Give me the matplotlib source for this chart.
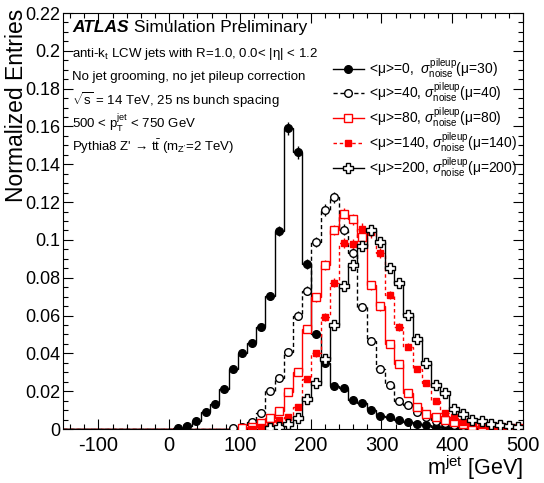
import matplotlib
matplotlib.use("Agg")
import matplotlib.pyplot as plt
from matplotlib.lines import Line2D
from matplotlib.ticker import MultipleLocator, FuncFormatter
import numpy as np

plt.rcParams.update({
    "font.family": "Liberation Sans",
    "mathtext.fontset": "custom",
    "mathtext.rm": "Liberation Sans",
    "mathtext.it": "Liberation Sans:italic",
    "mathtext.bf": "Liberation Sans:bold",
    "axes.unicode_minus": False,
})

# 50 bins of 13 GeV from -150 to 500 GeV
bin_edges = np.linspace(-150, 500, 51)

mu0 = [0, 0, 0, 0, 0, 0, 0, 0, 0, 0,
       0, 0, 0.0005, 0.0015, 0.0044, 0.0088, 0.0132, 0.0212, 0.0316, 0.0400,
       0.0456, 0.0540, 0.0703, 0.1047, 0.1590, 0.1463, 0.0871, 0.0502, 0.0350, 0.0227,
       0.0215, 0.0153, 0.0137, 0.0103, 0.0069, 0.0062, 0.0046, 0.0036, 0.0027, 0.0023,
       0.0008, 0.0008, 0.0007, 0.0006, 0.0006, 0.0008, 0.0007, 0.0006, 0.0005, 0.0005]
mu40 = [0, 0, 0, 0, 0, 0, 0, 0, 0, 0,
        0, 0, 0, 0, 0, 0, 0, 0, 0.0004, 0.0012,
        0.0036, 0.0083, 0.0203, 0.0268, 0.0409, 0.0600, 0.0731, 0.0990, 0.1158, 0.1225,
        0.1054, 0.0930, 0.0645, 0.0468, 0.0316, 0.0233, 0.0149, 0.0125, 0.0090, 0.0061,
        0.0042, 0.0030, 0.0022, 0.0016, 0.0012, 0.0009, 0.0007, 0.0005, 0.0004, 0.0003]
mu80 = [0, 0, 0, 0, 0, 0, 0, 0, 0, 0,
        0, 0, 0, 0, 0, 0, 0, 0, 0, 0.0004,
        0.0010, 0.0030, 0.0057, 0.0097, 0.0197, 0.0300, 0.0527, 0.0696, 0.0867, 0.1052,
        0.1138, 0.1110, 0.1018, 0.0761, 0.0648, 0.0448, 0.0342, 0.0189, 0.0118, 0.0080,
        0.0065, 0.0050, 0.0035, 0.0025, 0.0018, 0.0012, 0.0010, 0.0008, 0.0006, 0.0005]
mu140 = [0, 0, 0, 0, 0, 0, 0, 0, 0, 0,
         0, 0, 0, 0, 0, 0, 0, 0, 0, 0,
         0.0002, 0.0010, 0.0020, 0.0045, 0.0065, 0.0115, 0.0263, 0.0400, 0.0594, 0.0774,
         0.0985, 0.0978, 0.1060, 0.1040, 0.0929, 0.0709, 0.0541, 0.0435, 0.0316, 0.0245,
         0.0148, 0.0083, 0.0062, 0.0039, 0.0030, 0.0020, 0.0015, 0.0010, 0.0008, 0.0006]
mu200 = [0, 0, 0, 0, 0, 0, 0, 0, 0, 0,
         0, 0, 0, 0, 0, 0, 0, 0, 0, 0,
         0, 0, 0.0003, 0.0012, 0.0025, 0.0060, 0.0160, 0.0242, 0.0369, 0.0550,
         0.0757, 0.0867, 0.0970, 0.1050, 0.0990, 0.0850, 0.0774, 0.0603, 0.0474, 0.0351,
         0.0233, 0.0192, 0.0104, 0.0079, 0.0048, 0.0044, 0.0024, 0.0020, 0.0015, 0.0010]

labels = [
    r"<μ>=0,  $σ^{\rm pileup}_{\rm noise}$(μ=30)",
    r"<μ>=40, $σ^{\rm pileup}_{\rm noise}$(μ=40)",
    r"<μ>=80, $σ^{\rm pileup}_{\rm noise}$(μ=80)",
    r"<μ>=140, $σ^{\rm pileup}_{\rm noise}$(μ=140)",
    r"<μ>=200, $σ^{\rm pileup}_{\rm noise}$(μ=200)",
]

# statistical-like error bar size: err = ERR_SCALE * sqrt(value)
ERR_SCALE = 0.0088

styles = [
    dict(color="black", ls="-", marker="o", mfc="black", ms=5.5),
    dict(color="black", ls=(0, (3, 2)), marker="o", mfc="white", ms=5.5),
    dict(color="red", ls="-", marker="s", mfc="white", ms=5.5),
    dict(color="red", ls=(0, (2.5, 2)), marker="s", mfc="red", ms=5),
    dict(color="black", ls="-", marker="P", mfc="white", ms=6.5),
]

fig = plt.figure(figsize=(5.44, 4.83), dpi=100)
ax = fig.add_axes([63 / 544, 1 - 429 / 483, 460 / 544, 416 / 483])

centers = 0.5 * (bin_edges[:-1] + bin_edges[1:])
handles = []
for vals, st, lab in zip([mu0, mu40, mu80, mu140, mu200], styles, labels):
    v = np.array(vals)
    ax.stairs(v, bin_edges, color=st["color"], linestyle=st["ls"], lw=1.0)
    m = v > 0
    ax.errorbar(centers[m], v[m], yerr=ERR_SCALE * np.sqrt(v[m]), fmt=st["marker"],
                color=st["color"], mfc=st["mfc"], mec=st["color"], ms=st["ms"],
                mew=1.0, elinewidth=1.0, capsize=0, zorder=3)
    handles.append(Line2D([], [], color=st["color"], ls=st["ls"], lw=1.0,
                          marker=st["marker"], mfc=st["mfc"], mec=st["color"],
                          ms=st["ms"], mew=1.0))

ax.set_xlim(-150, 500)
ax.set_ylim(0, 0.22)
ax.xaxis.set_major_locator(MultipleLocator(100))
ax.xaxis.set_minor_locator(MultipleLocator(20))
ax.yaxis.set_major_locator(MultipleLocator(0.02))
ax.yaxis.set_minor_locator(MultipleLocator(0.005))
ax.yaxis.set_major_formatter(FuncFormatter(lambda v, p: f"{v:g}"))
ax.tick_params(which="both", direction="in", top=True, right=True, width=0.8)
ax.tick_params(which="major", length=7)
ax.tick_params(which="minor", length=3.5)
ax.tick_params(axis="x", labelsize=14.5, pad=5)
ax.tick_params(axis="y", labelsize=13, pad=2)

fig.text(17 / 544, 1 - 105 / 483, "Normalized Entries", rotation=90,
         ha="center", va="center", fontsize=16.5)
fig.text(523 / 544, 1 - 468 / 483, r"m$^{\rm jet}$ [GeV]", ha="right",
         va="center", fontsize=15.5)

t1 = ax.text(0.02, 0.966, "ATLAS", transform=ax.transAxes, fontsize=12.5,
             fontweight="bold", fontstyle="italic", va="center")
ax.annotate(" Simulation Preliminary", xy=(1, 0), xycoords=t1, va="bottom",
            fontsize=12.5)
info = [
    r"anti-k$_{\rm t}$ LCW jets with R=1.0, 0.0< |η| < 1.2",
    "No jet grooming, no jet pileup correction",
    r"$\sqrt{\rm s}$ = 14 TeV, 25 ns bunch spacing",
    r"500 < p$_{\rm T}^{\rm jet}$ < 750 GeV",
    r"Pythia8 Z' → t$\bar{\rm t}$ (m$_{\rm Z'}$=2 TeV)",
]
for i, s in enumerate(info):
    ax.text(0.02, 0.901 - i * 0.0555, s, transform=ax.transAxes, fontsize=9.5,
            va="center")

ax.legend(handles, labels, loc="upper left", bbox_to_anchor=(0.587, 0.897),
          frameon=False, fontsize=10, handlelength=2.2, handletextpad=0.4,
          labelspacing=0.07, borderpad=0, borderaxespad=0)

fig.savefig("out.png", dpi=100)
